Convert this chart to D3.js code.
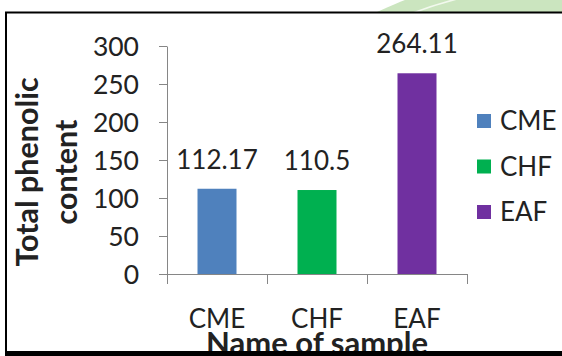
<!DOCTYPE html>
<html>
<head>
<meta charset="utf-8">
<script src="https://cdn.jsdelivr.net/npm/d3@7"></script>
<style>
  html, body { margin: 0; padding: 0; background: #fff; }
  svg { display: block; }
  text { font-family: Lato, "Open Sans", sans-serif; fill: #222; }
</style>
</head>
<body>
<svg id="chart" width="562" height="356"></svg>
<script>
// Total phenolic content per sample
const categories = ["CME", "CHF", "EAF"];
const values = [112.17, 110.5, 264.11];
const valueLabels = ["112.17", "110.5", "264.11"];
const colors = ["#4F81BD", "#00B050", "#7030A0"];
const yTicks = [0, 50, 100, 150, 200, 250, 300];
const yTitleLines = ["Total phenolic", "content"];
const xTitle = "Name of sample";

const svg = d3.select("#chart");
const W = 562, H = 356;

// faint logo ring peeking above the chart frame
const logo = svg.append("g");
logo.append("clipPath").attr("id", "logoClip")
  .append("rect").attr("x", 0).attr("y", 0).attr("width", W).attr("height", 12);
const lg = logo.append("g").attr("clip-path", "url(#logoClip)");
lg.append("circle").attr("cx", 560).attr("cy", 400).attr("r", 429).attr("fill", "#cbe5bf");
lg.append("circle").attr("cx", 560).attr("cy", 400).attr("r", 414)
  .attr("fill", "none").attr("stroke", "#f2f9ee").attr("stroke-width", 1.6);

// chart area background
svg.append("rect").attr("x", 6).attr("y", 13).attr("width", W - 6).attr("height", 340).attr("fill", "#fff");

// scales
const y = d3.scaleLinear().domain([0, 300]).range([274, 46]);
const xOuter = d3.scaleBand().domain(categories).range([167, 467]).padding(0);
const x = d3.scaleBand().domain(categories).range([167, 467]).paddingInner(0.61).paddingOuter(0.305);
const color = d3.scaleOrdinal().domain(categories).range(colors);

const axisColor = "#868686";

// y axis
const yAxis = svg.append("g").attr("transform", "translate(167,0)")
  .call(d3.axisLeft(y).tickValues(yTicks).tickSize(8).tickSizeOuter(0).tickPadding(20));
yAxis.select(".domain").attr("stroke", axisColor);
yAxis.selectAll(".tick line").attr("stroke", axisColor);
yAxis.selectAll(".tick text")
  .style("font-family", "Lato, sans-serif").style("font-size", "26.5px").attr("fill", "#222").attr("dy", "0.36em");

// bars
svg.append("g").selectAll("rect").data(categories).join("rect")
  .attr("x", d => x(d))
  .attr("y", (d, i) => y(values[i]))
  .attr("width", x.bandwidth())
  .attr("height", (d, i) => y(0) - y(values[i]))
  .attr("fill", d => color(d));

// x axis line and boundary ticks
const xg = svg.append("g");
xg.append("line").attr("x1", xOuter.range()[0]).attr("x2", xOuter.range()[1])
  .attr("y1", y(0) + 0.5).attr("y2", y(0) + 0.5).attr("stroke", axisColor);
const bounds = categories.map(c => xOuter(c)).concat([xOuter.range()[1]]);
xg.selectAll("line.b").data(bounds).join("line").attr("class", "b")
  .attr("x1", d => Math.round(d) + 0.5).attr("x2", d => Math.round(d) + 0.5)
  .attr("y1", y(0)).attr("y2", y(0) + 10).attr("stroke", axisColor);

// category labels
xg.selectAll("text").data(categories).join("text")
  .attr("x", d => xOuter(d) + xOuter.bandwidth() / 2)
  .attr("y", 328)
  .attr("text-anchor", "middle")
  .style("font-size", "26px")
  .text(d => d);

// value labels
svg.append("g").selectAll("text").data(categories).join("text")
  .attr("x", d => x(d) + x.bandwidth() / 2)
  .attr("y", (d, i) => y(values[i]) - 20)
  .attr("text-anchor", "middle")
  .style("font-size", "26px")
  .text((d, i) => valueLabels[i]);

// legend
const legend = svg.append("g").selectAll("g").data(categories).join("g")
  .attr("transform", (d, i) => `translate(477,${121 + i * 45.5})`);
legend.append("rect").attr("x", 0).attr("y", -7).attr("width", 14).attr("height", 14)
  .attr("fill", d => color(d));
legend.append("text").attr("x", 23).attr("y", 0).attr("dy", "0.36em")
  .style("font-size", "26px").text(d => d);

// y axis title
const yt = svg.append("text")
  .attr("transform", "translate(0,172) rotate(-90)")
  .attr("text-anchor", "middle")
  .style("font-size", "30.5px").style("font-weight", "bold");
yt.selectAll("tspan").data(yTitleLines).join("tspan")
  .attr("x", 0).attr("y", (d, i) => 38 + i * 39).text(d => d);

// x axis title
svg.append("text").attr("x", 317).attr("y", 354)
  .attr("text-anchor", "middle")
  .style("font-size", "31px").style("font-weight", "bold")
  .text(xTitle);

// frame
const frame = svg.append("g").attr("stroke", "#000").attr("fill", "none");
frame.append("line").attr("x1", 5).attr("x2", W).attr("y1", 12.5).attr("y2", 12.5).attr("stroke-width", 2);
frame.append("line").attr("x1", 6).attr("x2", 6).attr("y1", 12).attr("y2", 356).attr("stroke-width", 2);
frame.append("rect").attr("x", 5).attr("y", 351).attr("width", W - 5).attr("height", 5).attr("fill", "#000").attr("stroke", "none");
</script>
</body>
</html>
